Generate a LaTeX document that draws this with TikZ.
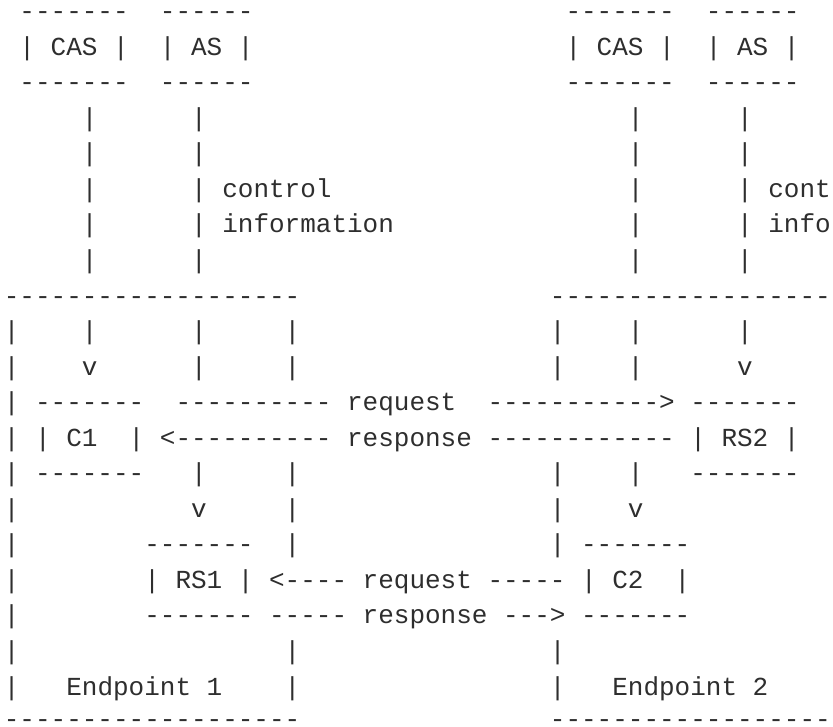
\documentclass[tikz,border=0pt]{standalone}
\usepackage{fontspec}
\setmonofont{Liberation Mono}
\definecolor{ink}{HTML}{2E2E2E}
\begin{document}
\begin{tikzpicture}
\fill[white] (0,0) rectangle (833pt,-726pt);
\useasboundingbox (0,0) rectangle (833pt,-726pt);
\begin{scope}[shift={(3.9pt,-19.6pt)}, x=15.6pt, y=-35.55pt,
  seg/.style={anchor=base west, inner sep=0pt, outer sep=0pt, text=ink,
    font=\ttfamily\fontsize{26pt}{30pt}\selectfont}]
% row 0
\node[seg] (r0a) at (1,0) {-------};
\node[seg] (r0b) at (10,0) {------};
\node[seg] (r0c) at (36,0) {-------};
\node[seg] (r0d) at (45,0) {------};
% row 1
\node[seg] (casL) at (1,1) {| CAS |};
\node[seg] (asL) at (10,1) {| AS |};
\node[seg] (casR) at (36,1) {| CAS |};
\node[seg] (asR) at (45,1) {| AS |};
% row 2
\node[seg] (r2a) at (1,2) {-------};
\node[seg] (r2b) at (10,2) {------};
\node[seg] (r2c) at (36,2) {-------};
\node[seg] (r2d) at (45,2) {------};
% rows 3-7
\foreach \r in {3,4,7}{
  \node[seg] (vA\r) at (5,\r) {|};
  \node[seg] (vB\r) at (12,\r) {|};
  \node[seg] (vC\r) at (40,\r) {|};
  \node[seg] (vD\r) at (47,\r) {|};
}
\node[seg] (vA5) at (5,5) {|};
\node[seg] (ctlL) at (12,5) {| control};
\node[seg] (vC5) at (40,5) {|};
\node[seg] (ctlR) at (47,5) {| cont};
\node[seg] (vA6) at (5,6) {|};
\node[seg] (infL) at (12,6) {| information};
\node[seg] (vC6) at (40,6) {|};
\node[seg] (infR) at (47,6) {| info};
% row 8
\node[seg] (ep1top) at (0,8) {-------------------};
\node[seg] (ep2top) at (35,8) {------------------};
% row 9
\foreach \c in {0,5,12,18,35,40,47}{ \node[seg] (r9c\c) at (\c,9) {|}; }
% row 10
\foreach \c in {0,12,18,35,40}{ \node[seg] (r10c\c) at (\c,10) {|}; }
\node[seg] (r10v1) at (5,10) {v};
\node[seg] (r10v2) at (47,10) {v};
% row 11
\node[seg] (r11c0) at (0,11) {|};
\node[seg] (c1top) at (2,11) {-------};
\node[seg] (rq1a) at (11,11) {----------};
\node[seg] (rq1) at (22,11) {request};
\node[seg] (rq1b) at (31,11) {----------->};
\node[seg] (rs2top) at (44,11) {-------};
% row 12
\node[seg] (r12c0) at (0,12) {|};
\node[seg] (c1) at (2,12) {| C1\ \ |};
\node[seg] (rp1a) at (10,12) {<----------};
\node[seg] (rp1) at (22,12) {response};
\node[seg] (rp1b) at (31,12) {------------};
\node[seg] (rs2) at (44,12) {| RS2 |};
% row 13
\node[seg] (r13c0) at (0,13) {|};
\node[seg] (c1bot) at (2,13) {-------};
\foreach \c in {12,18,35,40}{ \node[seg] (r13c\c) at (\c,13) {|}; }
\node[seg] (rs2bot) at (44,13) {-------};
% row 14
\foreach \c in {0,18,35}{ \node[seg] (r14c\c) at (\c,14) {|}; }
\node[seg] (r14v1) at (12,14) {v};
\node[seg] (r14v2) at (40,14) {v};
% row 15
\foreach \c in {0,18,35}{ \node[seg] (r15c\c) at (\c,15) {|}; }
\node[seg] (rs1top) at (9,15) {-------};
\node[seg] (c2top) at (37,15) {-------};
% row 16
\node[seg] (r16c0) at (0,16) {|};
\node[seg] (rs1) at (9,16) {| RS1 |};
\node[seg] (rq2a) at (17,16) {<----};
\node[seg] (rq2) at (23,16) {request};
\node[seg] (rq2b) at (31,16) {-----};
\node[seg] (c2) at (37,16) {| C2\ \ |};
% row 17
\node[seg] (r17c0) at (0,17) {|};
\node[seg] (rs1bot) at (9,17) {-------};
\node[seg] (rp2a) at (17,17) {-----};
\node[seg] (rp2) at (23,17) {response};
\node[seg] (rp2b) at (32,17) {--->};
\node[seg] (c2bot) at (37,17) {-------};
% row 18
\foreach \c in {0,18,35}{ \node[seg] (r18c\c) at (\c,18) {|}; }
% row 19
\foreach \c in {0,18,35}{ \node[seg] (r19c\c) at (\c,19) {|}; }
\node[seg] (ep1) at (4,19) {Endpoint 1};
\node[seg] (ep2) at (39,19) {Endpoint 2};
% row 20 (kept just inside the page)
\node[seg, yshift=9pt] (ep1bot) at (0,20) {\raisebox{-6pt}[10pt][0pt]{-------------------}};
\node[seg, yshift=9pt] (ep2bot) at (35,20) {\raisebox{-6pt}[10pt][0pt]{------------------}};
\end{scope}
\end{tikzpicture}
\end{document}
